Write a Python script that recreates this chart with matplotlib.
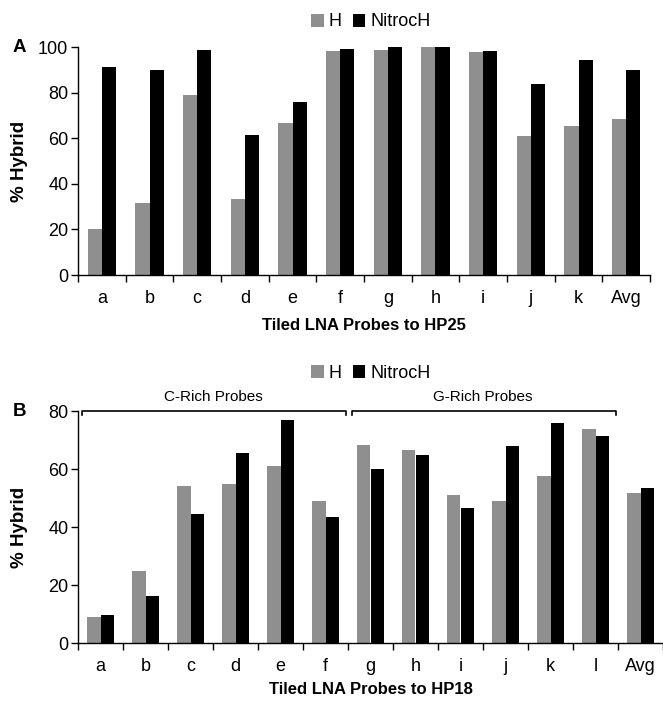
import matplotlib

matplotlib.use("Agg")
import matplotlib.pyplot as plt
import matplotlib.transforms as mtransforms
import numpy as np

plt.rcParams["font.family"] = ["Liberation Sans", "DejaVu Sans"]

GRAY = "#8f8f8f"
BLACK = "#000000"

# panel A: tiled LNA probes to HP25
cats_a = ["a", "b", "c", "d", "e", "f", "g", "h", "i", "j", "k", "Avg"]
h_a = [20, 31.6, 78.9, 33.5, 66.5, 98.2, 98.8, 100, 97.7, 60.8, 65.3, 68.4]
nitro_a = [91.2, 90.0, 98.8, 61.5, 75.8, 99.3, 100, 100, 98.1, 83.9, 94.4, 90.0]

# panel B: tiled LNA probes to HP18
cats_b = ["a", "b", "c", "d", "e", "f", "g", "h", "i", "j", "k", "l", "Avg"]
h_b = [8.9, 24.7, 54.2, 54.7, 61.2, 48.8, 68.4, 66.5, 51.2, 48.8, 57.7, 73.9, 51.7]
nitro_b = [9.8, 16.2, 44.4, 65.4, 76.8, 43.5, 60.1, 65.0, 46.7, 67.9, 75.7, 71.3, 53.6]
groups_b = [("C-Rich Probes", 0, 5), ("G-Rich Probes", 6, 11)]

W, H = 663, 701
fig = plt.figure(figsize=(W / 100, H / 100), dpi=100)


def panel(rect, cats, h, nitro, ymax, xlabel, letter, legend_y, xlabel_y):
    ax = fig.add_axes(rect)
    x = np.arange(len(cats))
    bw = 0.3
    ax.bar(x - bw / 2, h, bw, color=GRAY, label="H")
    ax.bar(x + bw / 2, nitro, bw, color=BLACK, label="NitrocH")
    ax.set_xlim(-0.5, len(cats) - 0.5)
    ax.set_ylim(0, ymax)
    ax.set_yticks(np.arange(0, ymax + 1, 20))
    ax.set_xticks(x)
    ax.set_xticklabels(cats)
    ax.set_xticks(np.arange(-0.5, len(cats), 1), minor=True)
    ax.tick_params(axis="x", which="major", length=0, pad=11, labelsize=13)
    ax.tick_params(axis="x", which="minor", length=5, width=1, direction="out")
    ax.tick_params(axis="y", length=5, width=1, direction="out", labelsize=13, pad=2)
    for s in ("top", "right"):
        ax.spines[s].set_visible(False)
    for s in ("left", "bottom"):
        ax.spines[s].set_linewidth(1)
    ax.set_xlabel(xlabel, fontsize=12, fontweight="bold")
    ax.xaxis.set_label_coords(0.5, 1 - xlabel_y / H,
                              transform=mtransforms.blended_transform_factory(ax.transAxes, fig.transFigure))
    ax.xaxis.label.set_va("center")
    ax.set_ylabel("% Hybrid", fontsize=13.5, fontweight="bold")
    ax.yaxis.set_label_coords(20 / W, 0.5,
                              transform=mtransforms.blended_transform_factory(fig.transFigure, ax.transAxes))
    ax.yaxis.label.set_va("center")
    fig.text(13 / W, rect[1] + rect[3], letter, fontsize=13.5, fontweight="bold",
             ha="left", va="center")
    ax.legend(loc="center", bbox_to_anchor=(371 / W, legend_y), bbox_transform=fig.transFigure,
              ncol=2, frameon=False, fontsize=13, handlelength=0.7, handleheight=0.7,
              handletextpad=0.3, columnspacing=0.6)
    return ax


panel([78 / W, 1 - 275 / H, 572 / W, 228 / H], cats_a, h_a, nitro_a, 100,
      "Tiled LNA Probes to HP25", "A", 1 - 22 / H, 326)
axb = panel([78 / W, 1 - 643 / H, 585 / W, 232 / H], cats_b, h_b, nitro_b, 80,
            "Tiled LNA Probes to HP18", "B", 1 - 373 / H, 690)

# group brackets above panel B
for label, i0, i1 in groups_b:
    x0, x1 = i0 - 0.42, i1 + 0.45
    yb = 80
    axb.plot([x0, x0, x1, x1], [yb - 1.5, yb, yb, yb - 1.5], color="black", lw=1.2, clip_on=False)
    axb.text((i0 + i1) / 2, yb + 2.5, label, ha="center", va="bottom", fontsize=11)

fig.savefig("out.png", dpi=100)
